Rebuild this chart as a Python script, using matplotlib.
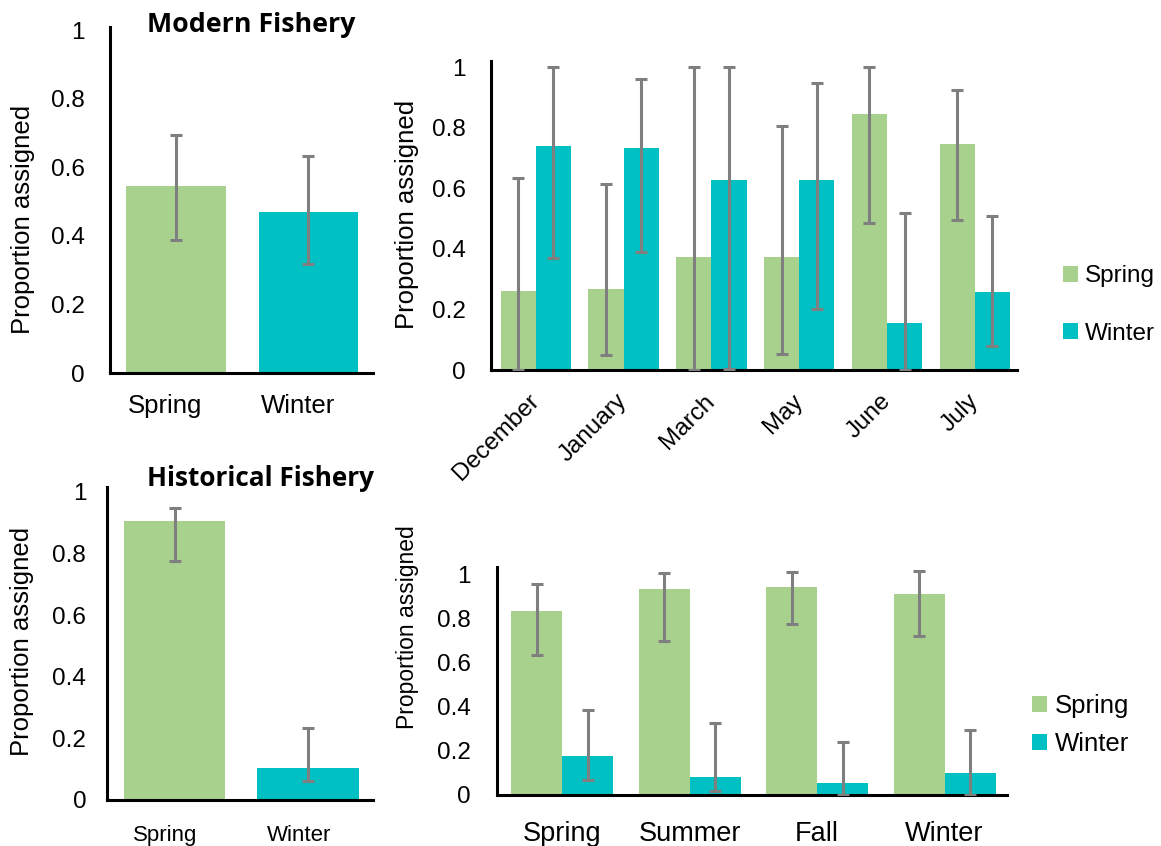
import matplotlib
matplotlib.use("Agg")
import matplotlib.pyplot as plt
import numpy as np
from matplotlib.patches import Patch
from matplotlib.ticker import FuncFormatter

# ---------------- data ----------------
modern_cats = ['Spring', 'Winter']
modern_vals = [0.545, 0.469]
modern_lo = [0.388, 0.318]
modern_hi = [0.694, 0.633]

months = ['December', 'January', 'March', 'May', 'June', 'July']
month_spring = [0.26, 0.267, 0.373, 0.373, 0.845, 0.746]
month_spring_lo = [0.0, 0.05, 0.0, 0.053, 0.485, 0.495]
month_spring_hi = [0.634, 0.614, 1.0, 0.805, 1.0, 0.924]
month_winter = [0.739, 0.733, 0.627, 0.627, 0.155, 0.257]
month_winter_lo = [0.37, 0.389, 0.005, 0.2, 0.0, 0.08]
month_winter_hi = [1.0, 0.96, 1.0, 0.947, 0.518, 0.508]

hist_cats = ['Spring', 'Winter']
hist_vals = [0.906, 0.104]
hist_lo = [0.776, 0.062]
hist_hi = [0.948, 0.234]

seasons = ['Spring', 'Summer', 'Fall', 'Winter']
season_spring = [0.836, 0.936, 0.945, 0.914]
season_spring_lo = [0.636, 0.70, 0.777, 0.723]
season_spring_hi = [0.959, 1.01, 1.015, 1.02]
season_winter = [0.177, 0.082, 0.055, 0.10]
season_winter_lo = [0.068, 0.018, 0.0, 0.0]
season_winter_hi = [0.386, 0.327, 0.241, 0.295]

yticks = [0, 0.2, 0.4, 0.6, 0.8, 1]
series_names = ['Spring', 'Winter']

# ---------------- style ----------------
GREEN = '#A9D18E'
TEAL = '#00C0C3'
ERR = '#7F7F7F'
FONT = ['Liberation Sans', 'DejaVu Sans']
plt.rcParams['font.family'] = FONT

fig = plt.figure(figsize=(11.61, 8.46), dpi=100)


def err(vals, lo, hi):
    v = np.array(vals); return np.vstack([v - np.array(lo), np.array(hi) - v])


def style(ax, ylim_top, ytick_size=17.5, ypad=12):
    for s in ['top', 'right']:
        ax.spines[s].set_visible(False)
    for s in ['left', 'bottom']:
        ax.spines[s].set_linewidth(2.2)
        ax.spines[s].set_color('black')
    ax.set_ylim(0, ylim_top)
    ax.set_yticks(yticks)
    ax.yaxis.set_major_formatter(FuncFormatter(lambda v, p: f'{v:g}'))
    ax.tick_params(axis='y', length=0, pad=ypad, labelsize=ytick_size)
    ax.tick_params(axis='x', length=0)


ekw = dict(ecolor=ERR, elinewidth=2.2, capsize=4.0, capthick=2.2)

# ---- top-left: Modern Fishery ----
ax1 = fig.add_axes([0.0947, 0.5591, 0.2265, 0.409])
x = np.arange(len(modern_cats))
ax1.bar(x, modern_vals, width=0.75, color=[GREEN, TEAL], zorder=1)
ax1.errorbar(x, modern_vals, yerr=err(modern_vals, modern_lo, modern_hi), fmt='none', zorder=3, **ekw)
style(ax1, 1.009, ypad=18)
ax1.set_xlim(-0.5, 1.49)
ax1.set_xticks(x - 0.08)
ax1.set_xticklabels(modern_cats, fontsize=18.5)
ax1.tick_params(axis='x', pad=15)
ax1.set_ylabel('Proportion assigned', fontsize=18.5, ha='center', va='center')
ax1.yaxis.set_label_coords(-0.331, 0.445)
fig.text(147 / 1161, 0.962, 'Modern Fishery', fontsize=19.3, fontweight='bold',
         family=['Open Sans', 'DejaVu Sans'], ha='left', va='baseline')

# ---- top-right: months ----
ax2 = fig.add_axes([0.4229, 0.5626, 0.4531, 0.3652])
x = np.arange(len(months))
w = 0.4
ax2.bar(x - w / 2, month_spring, width=w, color=GREEN, zorder=1)
ax2.bar(x + w / 2, month_winter, width=w, color=TEAL, zorder=1)
ax2.errorbar(x - w / 2, month_spring, yerr=err(month_spring, month_spring_lo, month_spring_hi),
             fmt='none', zorder=3, **ekw)
ax2.errorbar(x + w / 2, month_winter, yerr=err(month_winter, month_winter_lo, month_winter_hi),
             fmt='none', zorder=3, **ekw)
style(ax2, 1.02, ypad=18)
ax2.set_xlim(-0.51, 5.48)
ax2.set_xticks(x)
ax2.set_xticklabels(months, fontsize=17.5, rotation=45, ha='right', va='center',
                    rotation_mode='anchor')
ax2.tick_params(axis='x', pad=20)
ax2.set_ylabel('Proportion assigned', fontsize=18.5, ha='center', va='center')
ax2.yaxis.set_label_coords(-0.160, 0.505)
handles = [Patch(facecolor=GREEN), Patch(facecolor=TEAL)]
ax2.legend(handles, series_names, loc='center left', bbox_to_anchor=(1063 / 1161, 1 - 305 / 846),
           bbox_transform=fig.transFigure, frameon=False, fontsize=17.5, borderpad=0, borderaxespad=0,
           handlelength=0.6, handleheight=0.6, handletextpad=0.3, labelspacing=1.45)

# ---- bottom-left: Historical Fishery ----
ax3 = fig.add_axes([0.0922, 0.0544, 0.2291, 0.370])
x = np.arange(len(hist_cats))
ax3.bar(x, hist_vals, width=0.76, color=[GREEN, TEAL], zorder=1)
ax3.errorbar(x, hist_vals, yerr=err(hist_vals, hist_lo, hist_hi), fmt='none', zorder=3, **ekw)
style(ax3, 1.016, ypad=15)
ax3.set_xlim(-0.506, 1.487)
ax3.set_xticks(x - 0.07)
ax3.set_xticklabels(hist_cats, fontsize=16)
ax3.tick_params(axis='x', pad=18)
ax3.set_ylabel('Proportion assigned', fontsize=18.5, ha='center', va='center')
ax3.yaxis.set_label_coords(-0.320, 0.508)
fig.text(147 / 1161, (846 - 486) / 846, 'Historical Fishery', fontsize=18.8, fontweight='bold',
         family=['Open Sans', 'DejaVu Sans'], ha='left', va='baseline')

# ---- bottom-right: seasons ----
ax4 = fig.add_axes([0.4281, 0.0603, 0.4393, 0.2695])
x = np.arange(len(seasons))
ax4.bar(x - w / 2, season_spring, width=w, color=GREEN, zorder=1)
ax4.bar(x + w / 2, season_winter, width=w, color=TEAL, zorder=1)
ax4.errorbar(x - w / 2, season_spring, yerr=err(season_spring, season_spring_lo, season_spring_hi),
             fmt='none', zorder=3, **ekw)
ax4.errorbar(x + w / 2, season_winter, yerr=err(season_winter, season_winter_lo, season_winter_hi),
             fmt='none', zorder=3, **ekw)
style(ax4, 1.036, ypad=19)
ax4.set_xlim(-0.51, 3.49)
ax4.set_xticks(x)
ax4.set_xticklabels(seasons, fontsize=19.5)
ax4.tick_params(axis='x', pad=19)
ax4.set_ylabel('Proportion assigned', fontsize=16.5, ha='center', va='center')
ax4.yaxis.set_label_coords(-0.175, 0.735)
ax4.legend(handles, series_names, loc='center left', bbox_to_anchor=(1032 / 1161, 1 - 725 / 846),
           bbox_transform=fig.transFigure, frameon=False, fontsize=18.5, borderpad=0, borderaxespad=0,
           handlelength=0.6, handleheight=0.6, handletextpad=0.3, labelspacing=0.55)

fig.savefig('out.png', dpi=100)
